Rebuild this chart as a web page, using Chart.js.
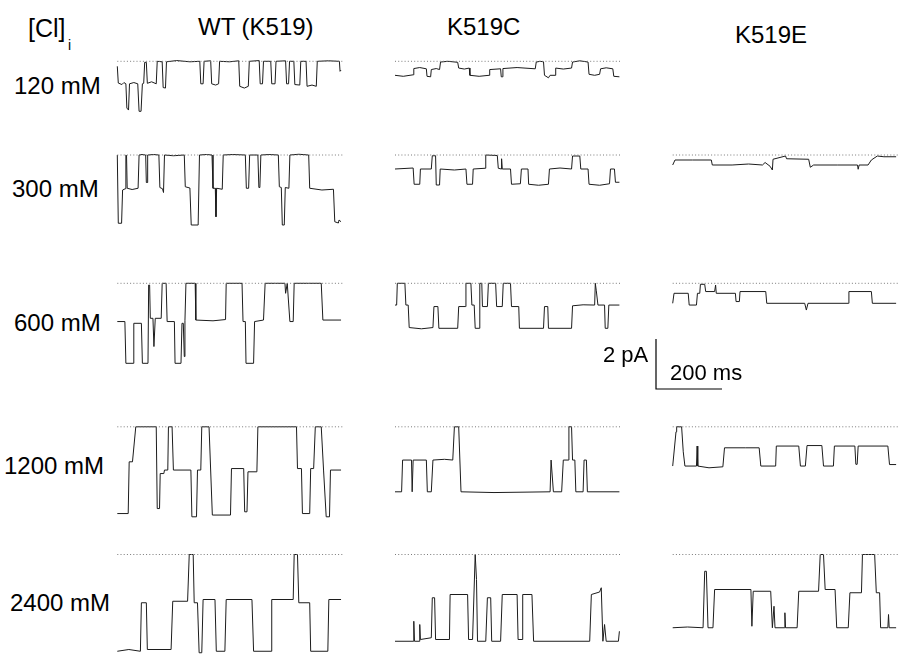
<!DOCTYPE html>
<html>
<head>
<meta charset="utf-8">
<script src="https://cdn.jsdelivr.net/npm/chart.js@4.4.1/dist/chart.umd.min.js"></script>
<style>
  html, body { margin:0; padding:0; background:#fff; width:899px; height:661px; overflow:hidden; }
  #stage { position:relative; width:899px; height:661px; }
  canvas { position:absolute; }
  .lbl { position:absolute; font-family:"Liberation Sans", Arial, sans-serif; color:#000; line-height:1; white-space:nowrap; }
</style>
</head>
<body>
<div id="stage"></div>
<script>
// ---------------- DATA (time in ms, current in pA; 0 = closed level) ----------------
const columns = ["WT (K519)", "K519C", "K519E"];
const concentrations = ["120 mM", "300 mM", "600 mM", "1200 mM", "2400 mM"];
const scaleBarCurrent = 2;   // pA
const scaleBarTime = 200;    // ms
const closedLevelDuration = 684; // ms, dotted reference line

const wt120_t = [0,3,14,20,26,29,34,37,50,62,66,72,76,80,83,88,91,104,118,121,136,139,146,149,180,220,250,253,260,263,283,286,298,307,310,340,368,371,385,397,400,430,433,440,443,465,468,478,481,510,513,519,522,535,538,553,556,572,575,590,603,606,640,673,675,678];
const wt120_i = [-0.2,-0.87,-0.93,-0.85,-0.9,-1.87,-1.95,-0.9,-0.85,-0.9,-2.0,-2.0,-0.9,-0.88,-0.04,-0.04,-0.88,-0.82,-0.9,0,-0.02,-1.05,-1.07,-0.02,0.03,-0.02,0,-0.9,-0.9,0,0.02,-0.9,-0.95,-0.9,0,-0.02,0.02,-1.0,-1.07,-1.0,0,0.03,-0.9,-0.9,0,0,-0.9,-0.9,0,0.02,-0.9,-0.9,0,0,-0.93,-0.95,0,0,-1.0,-0.95,-1.0,0,0.02,0,-0.4,-0.35];

const c120_t = [0,25,55,57,75,95,97,108,110,125,135,138,160,190,193,210,225,227,255,285,287,320,322,325,327,370,425,428,440,450,453,465,470,485,487,510,535,538,560,585,588,605,620,623,640,660,663,680];
const c120_i = [-0.56,-0.6,-0.54,-0.29,-0.25,-0.3,-0.6,-0.62,-0.33,-0.29,-0.33,-0.03,0,-0.04,-0.27,-0.31,-0.27,-0.56,-0.6,-0.56,-0.33,-0.3,-0.62,-0.62,-0.29,-0.25,-0.3,-0.03,0,-0.02,-0.56,-0.66,-0.56,-0.56,-0.27,-0.31,-0.27,-0.03,0.02,-0.03,-0.52,-0.56,-0.52,-0.3,-0.26,-0.3,-0.6,-0.62];

const wt300_t = [0,3,13,16,24,26,28,30,45,63,66,75,86,88,90,92,110,126,129,137,140,143,170,203,206,220,224,245,249,270,287,290,297,299,301,318,321,350,388,391,398,401,426,429,432,435,460,488,491,497,500,506,509,520,523,550,580,583,620,655,659,670,672,678];
const wt300_i = [0,-2.73,-2.73,-1.4,-1.35,0,-0.02,-1.33,-1.38,-1.33,0,0.02,0,-1.1,-1.1,0,0.02,0,-1.3,-1.35,-1.5,0,-0.03,0,-1.27,-1.32,-2.8,-2.8,0,0.02,0,-1.33,-1.33,-2.47,-1.33,-1.37,0,0.02,0,-1.33,-1.33,0,0,-1.3,-1.3,0,0.02,0,-1.27,-1.3,-2.8,-2.8,-1.3,-1.33,0,0.03,0,-1.33,-1.4,-1.37,-2.67,-2.72,-2.6,-2.67];

const c300_t = [0,55,58,75,77,110,113,123,125,135,137,180,215,218,235,237,273,275,310,313,322,323,325,350,353,380,383,403,405,435,465,468,500,535,538,560,563,585,588,620,650,653,665,668,680];
const c300_i = [-0.56,-0.52,-1.17,-1.17,-0.56,-0.56,-0.03,-0.03,-1.2,-1.2,-0.56,-0.6,-0.56,-1.17,-1.17,-0.56,-0.53,0,-0.02,-0.53,-0.56,-0.15,-0.56,-0.56,-1.17,-1.15,-0.56,-0.56,-1.17,-1.21,-1.17,-0.56,-0.52,-0.56,-0.04,-0.04,-0.56,-0.56,-1.17,-1.21,-1.15,-0.56,-0.56,-1.09,-1.09];

const e300_t = [0,7,60,117,120,180,230,272,280,295,302,304,342,345,412,417,427,500,560,562,565,592,602,620,640,677];
const e300_i = [-0.4,-0.2,-0.2,-0.2,-0.4,-0.4,-0.36,-0.4,-0.3,-0.45,-0.6,-0.17,-0.04,-0.15,-0.17,-0.49,-0.4,-0.4,-0.4,-0.57,-0.4,-0.4,-0.2,-0.04,-0.07,-0.07];

const wt600_t = [0,23,26,48,50,73,76,93,95,98,100,108,111,115,133,136,148,151,173,175,193,196,200,203,205,208,236,238,290,328,330,378,381,388,390,413,416,443,448,480,508,510,515,523,533,536,580,618,623,678];
const wt600_i = [-1.53,-1.53,-3.2,-3.2,-1.6,-1.6,-3.2,-3.2,-0.07,-0.07,-1.4,-1.4,-2.53,-1.4,-1.4,0,0,-1.53,-1.53,-3.2,-3.2,-1.6,-1.6,-2.93,-1.5,0,0,-1.47,-1.5,-1.45,0,0,-1.53,-1.53,-3.2,-3.2,-1.53,-1.47,0,0,0,-0.4,0,-1.53,-1.53,0,0,0,-1.47,-1.47];

const c600_t = [0,5,7,30,33,40,43,80,115,118,130,133,190,193,213,215,230,233,240,243,255,257,263,265,280,283,305,308,325,328,350,353,375,377,450,453,463,465,535,538,570,605,607,610,615,635,637,645,648,680];
const c600_i = [-0.87,-0.87,0,0,-0.87,-0.87,-1.77,-1.82,-1.77,-0.93,-0.93,-1.8,-1.8,-0.93,-0.93,0,0,-0.87,-0.87,-1.8,-1.8,0,0,-0.93,-0.93,0,0,-0.93,-0.93,0,0,-0.93,-0.93,-1.8,-1.8,-0.93,-0.93,-1.8,-1.8,-0.9,-0.86,-0.87,0,-0.3,-0.87,-0.87,-1.8,-1.8,-0.87,-0.87];

const e600_t = [0,4,47,50,72,75,82,84,97,100,127,130,132,190,192,202,204,282,285,400,405,410,532,534,602,605,677];
const e600_i = [-0.8,-0.4,-0.4,-0.87,-0.87,-0.4,-0.4,-0.04,-0.04,-0.33,-0.33,-0.07,-0.4,-0.4,-0.73,-0.73,-0.33,-0.33,-0.8,-0.8,-1.07,-0.8,-0.8,-0.33,-0.33,-0.8,-0.8];

const wt1200_t = [0,33,36,46,56,118,121,128,130,141,143,153,155,166,170,223,226,240,243,253,256,278,288,343,346,383,386,393,396,423,426,543,546,558,561,583,586,595,600,618,625,633,643,646,678];
const wt1200_i = [-3.47,-3.47,-1.4,-1.4,0,0,-3.27,-3.27,-1.87,-1.87,-1.73,-1.73,0,0,-1.73,-1.73,-3.6,-3.6,-1.73,-1.73,0,0,-3.53,-3.53,-1.67,-1.67,-3.4,-3.4,-1.8,-1.8,0,0,-1.67,-1.67,-3.47,-3.47,-1.67,-1.67,0,0,-1.73,-3.6,-3.6,-1.73,-1.73];

const c1200_t = [0,20,23,50,52,55,95,98,110,115,150,175,180,193,200,300,470,473,480,505,510,525,527,535,538,545,548,570,573,580,583,680];
const c1200_i = [-2.6,-2.6,-1.33,-1.33,-2.6,-1.33,-1.33,-2.6,-2.6,-1.33,-1.3,-1.33,0,0,-2.6,-2.63,-2.6,-1.33,-2.6,-2.6,-1.33,-1.33,0,0,-1.33,-1.33,-2.6,-2.6,-1.33,-1.33,-2.6,-2.6];

const e1200_t = [0,10,12,27,32,37,72,74,76,110,152,157,220,262,267,312,314,382,387,402,407,452,457,487,490,552,555,559,562,652,657,677];
const e1200_i = [-1.57,-0.2,0,0,-1.0,-1.57,-1.57,-0.77,-1.57,-1.64,-1.6,-0.84,-0.84,-0.84,-1.57,-1.57,-0.77,-0.77,-1.57,-1.57,-0.75,-0.75,-1.57,-1.57,-0.77,-0.77,-1.5,-1.5,-0.77,-0.77,-1.51,-1.51];

const wt2400_t = [0,35,70,73,88,91,163,168,213,218,230,233,243,248,256,260,296,300,326,330,408,413,466,468,533,536,546,550,583,586,638,641,678];
const wt2400_i = [-3.87,-3.8,-3.87,-1.93,-1.93,-3.8,-3.8,-1.87,-1.87,0,0,-1.93,-1.93,-3.93,-3.93,-1.8,-1.8,-3.87,-3.87,-1.8,-1.8,-3.87,-3.87,-1.8,-1.8,0,0,-1.93,-1.93,-3.87,-3.87,-1.8,-1.8];

const c2400_t = [0,55,57,59,73,75,77,110,113,120,123,165,167,220,223,235,243,247,250,275,280,290,293,320,325,370,373,385,387,415,420,500,590,595,620,625,630,635,640,677,680];
const c2400_i = [-3.47,-3.47,-2.67,-3.47,-3.47,-2.8,-3.4,-3.33,-1.73,-1.73,-3.4,-3.4,-1.6,-1.6,-3.4,-3.4,0,-1.0,-3.47,-3.47,-1.73,-1.73,-3.47,-3.47,-1.6,-1.6,-3.4,-3.4,-1.6,-1.6,-3.47,-3.47,-3.47,-1.6,-1.5,-1.33,-3.47,-2.8,-3.47,-3.47,-3.07];

const e2400_t = [0,45,92,97,102,107,122,127,237,240,244,297,302,307,310,338,340,342,377,382,442,447,457,462,492,497,532,537,572,575,612,617,627,630,652,654,656,677];
const e2400_i = [-2.93,-2.9,-2.93,-0.67,-0.67,-2.93,-2.93,-1.4,-1.4,-2.87,-1.47,-1.47,-2.93,-2.07,-2.93,-2.93,-2.33,-2.93,-2.93,-1.47,-1.47,0,0,-1.4,-1.4,-2.93,-2.93,-1.53,-1.53,0,0,-1.53,-1.53,-2.93,-2.93,-2.4,-2.93,-2.93];

// ---------------- LAYOUT ----------------
const PX_PER_MS = 0.33, PX_PER_PA = 25;
const colStartX = [117.3, 395, 672.7];
const rowDotY = [61.3, 155, 283.3, 426.8, 554.5];
const traces = [
  [[wt120_t, wt120_i], [c120_t, c120_i], null],
  [[wt300_t, wt300_i], [c300_t, c300_i], [e300_t, e300_i]],
  [[wt600_t, wt600_i], [c600_t, c600_i], [e600_t, e600_i]],
  [[wt1200_t, wt1200_i], [c1200_t, c1200_i], [e1200_t, e1200_i]],
  [[wt2400_t, wt2400_i], [c2400_t, c2400_i], [e2400_t, e2400_i]]
];
const stage = document.getElementById('stage');

function makeCanvas(left, top, w, h) {
  const c = document.createElement('canvas');
  c.width = w; c.height = h;
  c.style.left = left + 'px'; c.style.top = top + 'px';
  c.style.width = w + 'px'; c.style.height = h + 'px';
  stage.appendChild(c);
  return c;
}

function baseOptions(xMin, xMax, yMin, yMax) {
  return {
    responsive: false, animation: false, events: [],
    layout: { padding: 0 },
    plugins: { legend: { display: false }, tooltip: { enabled: false } },
    elements: { point: { radius: 0 }, line: { tension: 0 } },
    scales: {
      x: { type: 'linear', min: xMin, max: xMax, display: false },
      y: { type: 'linear', min: yMin, max: yMax, display: false }
    }
  };
}

function traceChart(x0, y0, t, cur) {
  const W = 244, H = 124;
  const left = Math.round(x0 - 6), top = Math.round(y0 - 8);
  const xMin = -(x0 - left) / PX_PER_MS, xMax = xMin + W / PX_PER_MS;
  const yMax = (y0 - top) / PX_PER_PA, yMin = yMax - H / PX_PER_PA;
  const cv = makeCanvas(left, top, W, H);
  new Chart(cv, {
    type: 'line',
    data: {
      datasets: [
        { data: [{x:0, y:0}, {x:closedLevelDuration, y:0}], borderColor: '#7a7a7a', borderWidth: 1, borderDash: [1, 2.2], fill: false },
        { data: t.map((v, k) => ({ x: v, y: cur[k] })), borderColor: '#1c1c1c', borderWidth: 1, fill: false }
      ]
    },
    options: baseOptions(xMin, xMax, yMin, yMax)
  });
}

traces.forEach((row, r) => row.forEach((tr, c) => { if (tr) traceChart(colStartX[c], rowDotY[r], tr[0], tr[1]); }));

// scale bar
(function () {
  const cx = 656, cy = 389, pad = 4;
  const W = Math.round(scaleBarTime * PX_PER_MS) + 2 * pad, H = Math.round(scaleBarCurrent * PX_PER_PA) + 2 * pad;
  const left = cx - pad, top = cy - scaleBarCurrent * PX_PER_PA - pad;
  const cv = makeCanvas(left, top, W, H);
  const xMin = -pad / PX_PER_MS, yMin = -pad / PX_PER_PA;
  new Chart(cv, {
    type: 'line',
    data: { datasets: [{ data: [{x:0, y:scaleBarCurrent}, {x:0, y:0}, {x:scaleBarTime, y:0}], borderColor: '#000', borderWidth: 1.2, fill: false }] },
    options: baseOptions(xMin, xMin + W / PX_PER_MS, yMin, yMin + H / PX_PER_PA)
  });
})();

// ---------------- TEXT ----------------
function label(text, left, baseline, size) {
  const d = document.createElement('div');
  d.className = 'lbl';
  d.textContent = text;
  d.style.fontSize = size + 'px';
  d.style.left = left + 'px';
  d.style.top = (baseline - 0.8465 * size) + 'px';
  stage.appendChild(d);
  return d;
}
label('[Cl]', 28, 37, 25);
label('i', 68, 50, 14);
const headLeft = [198, 447, 735], headBase = [35, 35, 43];
columns.forEach((s, k) => label(s, headLeft[k], headBase[k], 24));
const rowLeft = [14, 12, 14, 4, 10], rowBase = [94, 197, 331, 474, 611];
concentrations.forEach((s, k) => label(s, rowLeft[k], rowBase[k], 24));
label(scaleBarCurrent + ' pA', 603, 363, 22);
label(scaleBarTime + ' ms', 670, 381, 22);
</script>
</body>
</html>
